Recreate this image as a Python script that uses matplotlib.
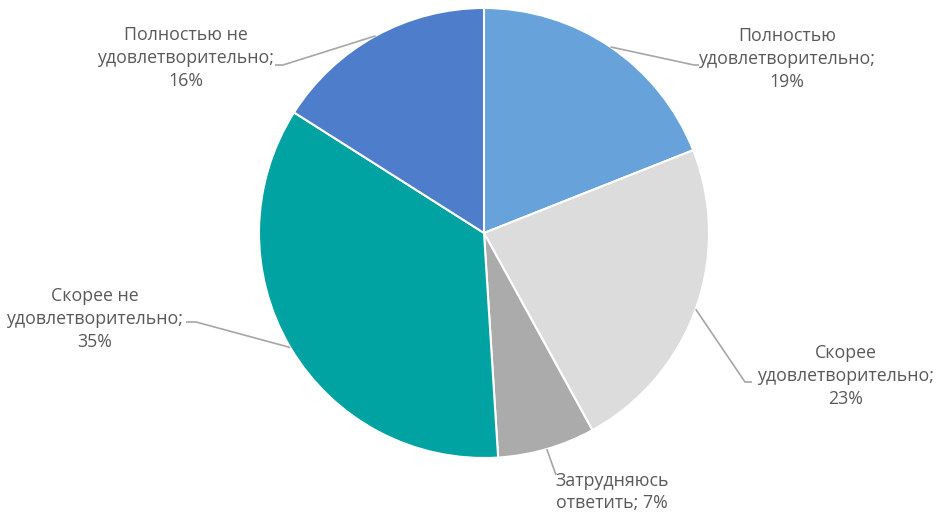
import numpy as np
import matplotlib
matplotlib.use("Agg")
import matplotlib.pyplot as plt

categories = ["Полностью\nудовлетворительно;", "Скорее\nудовлетворительно;",
              "Затрудняюсь\nответить;", "Скорее не\nудовлетворительно;",
              "Полностью не\nудовлетворительно;"]
values = [19, 23, 7, 35, 16]
colors = ["#67A3DA", "#DCDCDC", "#ABABAB", "#00A2A2", "#4E7DCB"]

W, H = 938, 513
fig = plt.figure(figsize=(W / 100, H / 100), dpi=100)
ax = fig.add_axes([0, 0, 1, 1])
ax.set_xlim(0, W)
ax.set_ylim(0, H)
ax.set_aspect("equal")
ax.axis("off")

cx, cy, r = 484, H - 233, 225
wedges, _ = ax.pie(values, colors=colors, startangle=90, counterclock=False,
                   center=(cx, cy), radius=r, frame=True,
                   wedgeprops=dict(edgecolor="white", linewidth=1.5))
ax.set_xlim(0, W)
ax.set_ylim(0, H)
ax.axis("off")

# label layout (pixel coords, y from top): text center, elbow, end of horizontal tick
layout = [
    dict(txt=(787, 59), elbow=(694, 65), end=(699, 65)),
    dict(txt=(846, 376), elbow=(745, 382), end=(752, 382)),
    dict(txt=(612, 492), elbow=(556, 475), end=None),
    dict(txt=(95, 319), elbow=(196, 322), end=(186, 322)),
    dict(txt=(186, 58), elbow=(283, 65), end=(275, 65)),
]

tc = "#595959"
for w, cat, v, lay in zip(wedges, categories, values, layout):
    ang = np.deg2rad((w.theta1 + w.theta2) / 2)
    ex, ey = cx + r * np.cos(ang), cy + r * np.sin(ang)
    bx, by = lay["elbow"][0], H - lay["elbow"][1]
    xs, ys = [ex, bx], [ey, by]
    if lay["end"] is not None:
        xs.append(lay["end"][0]); ys.append(H - lay["end"][1])
    ax.plot(xs, ys, color="#A6A6A6", lw=1.2, solid_capstyle="butt")
    if "ответить" in cat:
        label = f"{cat.split(chr(10))[0]}\n{cat.split(chr(10))[1]} {v}%"
    else:
        label = f"{cat}\n{v}%"
    ax.text(lay["txt"][0], H - lay["txt"][1], label, ha="center", va="center",
            fontsize=12.8, color=tc, family=["Open Sans", "DejaVu Sans"],
            linespacing=1.35)

fig.savefig("out.png", dpi=100, facecolor="white")
